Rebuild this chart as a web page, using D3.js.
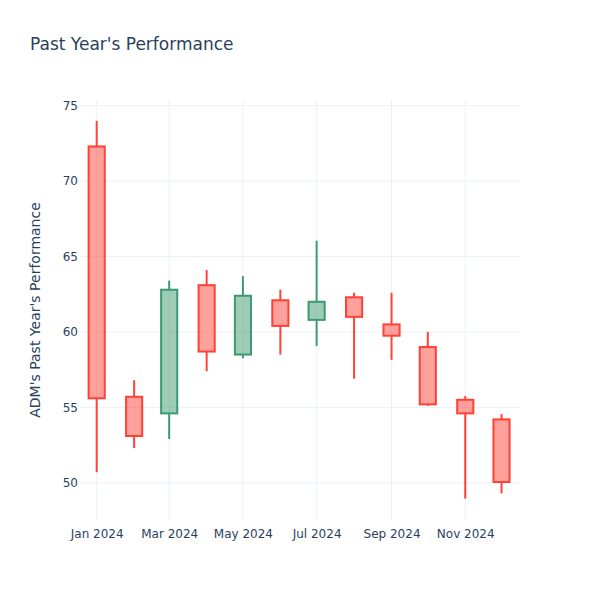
<!DOCTYPE html>
<html>
<head>
<meta charset="utf-8">
<script src="https://cdn.jsdelivr.net/npm/d3@7"></script>
<style>
  html, body { margin: 0; padding: 0; background: #fff; }
  svg { display: block; font-family: "DejaVu Sans", Verdana, sans-serif; }
</style>
</head>
<body>
<svg id="chart" width="600" height="600"></svg>
<script>
const dates  = ["2024-01-01","2024-02-01","2024-03-01","2024-04-01","2024-05-01","2024-06-01",
                "2024-07-01","2024-08-01","2024-09-01","2024-10-01","2024-11-01","2024-12-01"];
const opens  = [72.3, 55.7, 54.6, 63.1, 58.5, 62.1, 60.8, 62.3, 60.5, 59.0, 55.5, 54.2];
const highs  = [74.0, 56.8, 63.4, 64.1, 63.7, 62.8, 66.05, 62.6, 62.6, 60.0, 55.75, 54.55];
const lows   = [50.7, 52.3, 52.9, 57.4, 58.25, 58.5, 59.07, 56.9, 58.15, 55.1, 48.95, 49.3];
const closes = [55.6, 53.1, 62.8, 58.7, 62.4, 60.4, 62.0, 61.0, 59.75, 55.2, 54.6, 50.05];
const xTickDates  = ["2024-01-01","2024-03-01","2024-05-01","2024-07-01","2024-09-01","2024-11-01"];
const xTickLabels = ["Jan 2024","Mar 2024","May 2024","Jul 2024","Sep 2024","Nov 2024"];
const yTicks = [50, 55, 60, 65, 70, 75];
const xDomain = ["2023-12-18T04:48:00Z", "2024-12-16T07:12:00Z"];
const yDomain = [47.53, 75.38];

const parse = s => new Date(s.length === 10 ? s + "T00:00:00Z" : s);
const svg = d3.select("#chart");
const m = {l: 80, r: 80, t: 100, b: 80};
const W = 600, H = 600;

const x = d3.scaleUtc().domain(xDomain.map(parse)).range([m.l, W - m.r]);
const y = d3.scaleLinear().domain(yDomain).range([H - m.b, m.t]);

const grid = "#ebf0f8";
const textCol = "#2a3f5f";

// gridlines
svg.append("g").selectAll("line").data(yTicks).join("line")
  .attr("x1", m.l).attr("x2", W - m.r)
  .attr("y1", d => y(d)).attr("y2", d => y(d))
  .attr("stroke", grid).attr("stroke-width", 1);
svg.append("g").selectAll("line").data(xTickDates).join("line")
  .attr("x1", d => x(parse(d))).attr("x2", d => x(parse(d)))
  .attr("y1", m.t).attr("y2", H - m.b)
  .attr("stroke", grid).attr("stroke-width", 1);

// y axis labels
const yAxis = d3.axisLeft(y).tickValues(yTicks).tickSize(0).tickPadding(2);
const gy = svg.append("g").attr("transform", `translate(${m.l},0)`).call(yAxis);
gy.select(".domain").remove();
gy.selectAll("text").attr("fill", textCol).attr("font-size", 12)
  .attr("font-family", '"DejaVu Sans", Verdana, sans-serif');

// x axis labels
const xAxis = d3.axisBottom(x).tickValues(xTickDates.map(parse))
  .tickFormat((d, i) => xTickLabels[i]).tickSize(0).tickPadding(9);
const gx = svg.append("g").attr("transform", `translate(0,${H - m.b})`).call(xAxis);
gx.select(".domain").remove();
gx.selectAll("text").attr("fill", textCol).attr("font-size", 12)
  .attr("font-family", '"DejaVu Sans", Verdana, sans-serif');

// candles
const data = dates.map((d, i) => ({date: parse(d), o: opens[i], h: highs[i], l: lows[i], c: closes[i]}));
let minGap = Infinity;
for (let i = 1; i < data.length; i++) minGap = Math.min(minGap, x(data[i].date) - x(data[i-1].date));
const half = minGap * 0.23;

const inc = {line: "#3D9970", fill: "rgba(61,153,112,0.5)"};
const dec = {line: "#FF4136", fill: "rgba(255,65,54,0.5)"};

const g = svg.append("g");
data.forEach(d => {
  const st = d.c >= d.o ? inc : dec;
  const cx = x(d.date);
  const top = y(Math.max(d.o, d.c)), bot = y(Math.min(d.o, d.c));
  g.append("line").attr("x1", cx).attr("x2", cx).attr("y1", y(d.h)).attr("y2", top)
    .attr("stroke", st.line).attr("stroke-width", 2);
  g.append("line").attr("x1", cx).attr("x2", cx).attr("y1", bot).attr("y2", y(d.l))
    .attr("stroke", st.line).attr("stroke-width", 2);
  g.append("rect").attr("x", cx - half).attr("width", 2 * half)
    .attr("y", top).attr("height", Math.max(0.5, bot - top))
    .attr("fill", st.fill).attr("stroke", st.line).attr("stroke-width", 2);
});

// title
svg.append("text").attr("x", 30).attr("y", 50)
  .attr("fill", textCol).attr("font-size", 17)
  .text("Past Year's Performance");

// y-axis title
svg.append("text")
  .attr("transform", `translate(40,${(m.t + H - m.b) / 2}) rotate(-90)`)
  .attr("text-anchor", "middle")
  .attr("fill", textCol).attr("font-size", 14)
  .text("ADM's Past Year's Performance");
</script>
</body>
</html>
